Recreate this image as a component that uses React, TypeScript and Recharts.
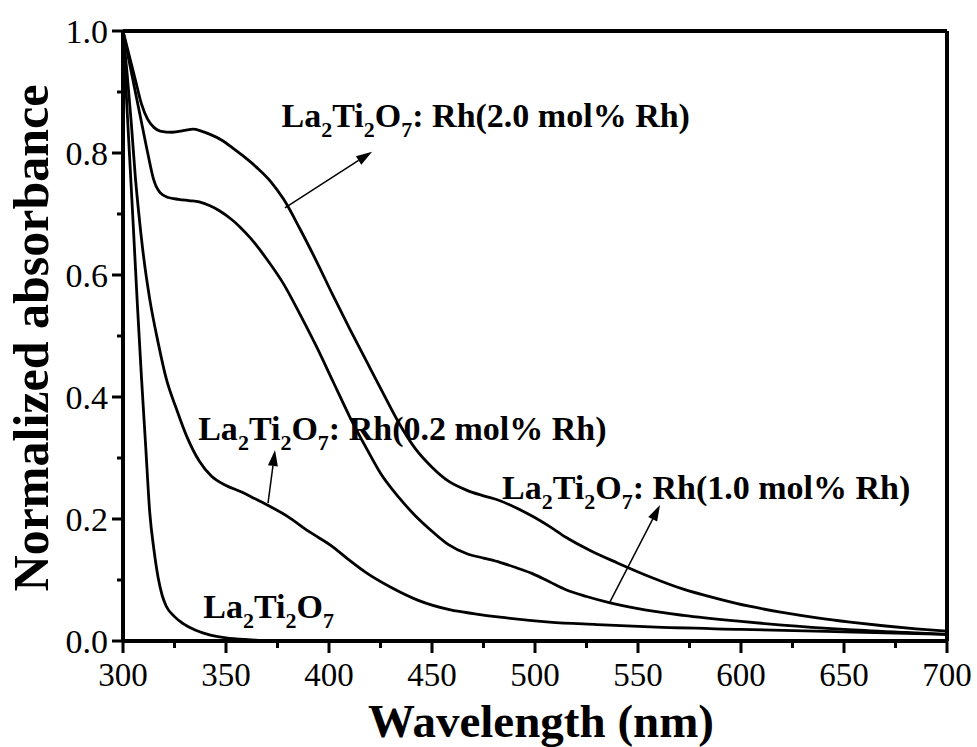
import React from 'react'
import { LineChart, Line, XAxis, YAxis, ReferenceLine, ReferenceDot } from 'recharts'

const FONT = '"Liberation Serif", "Times New Roman", serif'

// La2Ti2O7 (undoped)
const pureWl = [300, 302, 305, 307, 309, 311, 313, 315, 317, 319, 321, 325, 329, 335, 342, 350, 362, 375, 450, 700]
const pureAbs = [1.0, 0.87, 0.68, 0.55, 0.43, 0.32, 0.21, 0.15, 0.105, 0.075, 0.057, 0.04, 0.029, 0.018, 0.01, 0.005, 0.002, 0.0, 0.0, 0.0]

// 0.2 mol% Rh
const rh02Wl = [300, 302, 304, 306, 308, 310, 313, 317, 321, 326, 331, 337, 343, 350, 357, 363, 370, 380, 390, 402, 410, 418, 430, 443, 459, 470, 483, 507, 530, 556, 600, 650, 700]
const rh02Abs = [1.0, 0.93, 0.85, 0.76, 0.69, 0.63, 0.56, 0.49, 0.43, 0.38, 0.335, 0.295, 0.27, 0.255, 0.245, 0.235, 0.223, 0.204, 0.18, 0.154, 0.132, 0.112, 0.088, 0.067, 0.051, 0.045, 0.039, 0.031, 0.027, 0.023, 0.019, 0.015, 0.011]

// 1.0 mol% Rh
const rh10Wl = [300, 303, 306, 309, 312, 315, 318, 322, 327, 332, 337, 342, 347, 352, 357, 362, 370, 378, 386, 394, 402, 410, 418, 425, 434, 442, 450, 458, 467, 475, 483, 491, 499, 507, 515, 525, 536, 550, 572, 600, 620, 650, 680, 700]
const rh10Abs = [1.0, 0.95, 0.9, 0.85, 0.8, 0.755, 0.735, 0.727, 0.724, 0.722, 0.72, 0.714, 0.705, 0.693, 0.678, 0.66, 0.625, 0.585, 0.535, 0.482, 0.425, 0.368, 0.317, 0.275, 0.235, 0.205, 0.18, 0.158, 0.143, 0.136, 0.129, 0.12, 0.11, 0.097, 0.084, 0.073, 0.063, 0.053, 0.042, 0.032, 0.026, 0.019, 0.014, 0.011]

// 2.0 mol% Rh
const rh20Wl = [300, 303, 306, 309, 312, 315, 318, 324, 330, 334, 338, 342, 348, 353, 358, 365, 372, 378, 386, 394, 402, 410, 418, 426, 434, 442, 450, 458, 467, 475, 483, 491, 499, 507, 515, 527, 540, 556, 572, 588, 604, 620, 637, 653, 669, 685, 700]
const rh20Abs = [1.0, 0.96, 0.92, 0.88, 0.855, 0.842, 0.836, 0.834, 0.837, 0.839, 0.836, 0.831, 0.821, 0.809, 0.796, 0.776, 0.752, 0.724, 0.675, 0.622, 0.566, 0.512, 0.46, 0.408, 0.357, 0.315, 0.285, 0.262, 0.247, 0.238, 0.23, 0.218, 0.204, 0.188, 0.17, 0.148, 0.128, 0.105, 0.085, 0.07, 0.057, 0.047, 0.038, 0.031, 0.025, 0.02, 0.016]

const xTicks = [300, 325, 350, 375, 400, 425, 450, 475, 500, 525, 550, 575, 600, 625, 650, 675, 700]
const yTicks = [0, 0.1, 0.2, 0.3, 0.4, 0.5, 0.6, 0.7, 0.8, 0.9, 1.0]

// annotation text positions (wavelength, absorbance) and arrows
const labels = [
  { x: 377, y: 0.842, rest: ': Rh(2.0 mol% Rh)' },
  { x: 336.5, y: 0.33, rest: ': Rh(0.2 mol% Rh)' },
  { x: 484, y: 0.232, rest: ': Rh(1.0 mol% Rh)' },
  { x: 339, y: 0.038, rest: '' },
]
const arrows = [
  { from: [378.6, 0.71], to: [420.9, 0.802] },
  { from: [370.4, 0.226], to: [373.8, 0.313] },
  { from: [536.4, 0.064], to: [560.7, 0.223] },
]

const zip = (wl: number[], abs: number[]) => wl.map((x, i) => ({ x, y: abs[i] }))

const series = [
  { name: 'La2Ti2O7', data: zip(pureWl, pureAbs) },
  { name: '0.2 mol% Rh', data: zip(rh02Wl, rh02Abs) },
  { name: '1.0 mol% Rh', data: zip(rh10Wl, rh10Abs) },
  { name: '2.0 mol% Rh', data: zip(rh20Wl, rh20Abs) },
]

function XTick(props: any) {
  const { x, y, payload } = props
  const major = payload.value % 50 === 0
  return (
    <g>
      <line x1={x} x2={x} y1={y} y2={y + (major ? 12 : 7)} stroke="#000" strokeWidth={3} />
      {major && (
        <text x={x} y={y + 45} textAnchor="middle" fontSize={33} fontFamily={FONT} fill="#000">
          {payload.value}
        </text>
      )}
    </g>
  )
}

function YTick(props: any) {
  const { x, y, payload } = props
  const v = Math.round(payload.value * 10)
  const major = v % 2 === 0
  return (
    <g>
      <line x1={x - (major ? 11 : 6)} x2={x} y1={y} y2={y} stroke="#000" strokeWidth={3} />
      {major && (
        <text x={x - 15} y={y + 12} textAnchor="end" fontSize={34} fontFamily={FONT} fill="#000">
          {(v / 10).toFixed(1)}
        </text>
      )}
    </g>
  )
}

function Formula({ cx, cy, rest }: any) {
  return (
    <text x={cx} y={cy} fontSize={34} fontWeight="bold" fontFamily={FONT} fill="#000">
      La<tspan dy={10} fontSize={22}>2</tspan>
      <tspan dy={-10}>Ti</tspan>
      <tspan dy={10} fontSize={22}>2</tspan>
      <tspan dy={-10}>O</tspan>
      <tspan dy={10} fontSize={22}>7</tspan>
      {rest && <tspan dy={-10}>{rest}</tspan>}
    </text>
  )
}

function Arrow(props: any) {
  const { x1, y1, x2, y2 } = props
  const a = Math.atan2(y2 - y1, x2 - x1)
  const len = 16
  const w = 5
  const bx = x2 - len * Math.cos(a)
  const by = y2 - len * Math.sin(a)
  const px = -Math.sin(a) * w
  const py = Math.cos(a) * w
  return (
    <g>
      <line x1={x1} y1={y1} x2={bx} y2={by} stroke="#000" strokeWidth={1.5} />
      <polygon points={`${x2},${y2} ${bx + px},${by + py} ${bx - px},${by - py}`} fill="#000" />
    </g>
  )
}

export default function App() {
  return (
    <div style={{ position: 'absolute', left: 0, top: 0, background: '#fff' }}>
      <LineChart width={977} height={747} margin={{ top: 31, right: 30, bottom: 0, left: 0 }}>
        <XAxis
          type="number"
          dataKey="x"
          domain={[300, 700]}
          ticks={xTicks}
          interval={0}
          height={106}
          tickSize={0}
          tickMargin={0}
          tick={<XTick />}
          axisLine={{ stroke: '#000', strokeWidth: 4 }}
          label={{
            content: () => (
              <text x={541} y={737} textAnchor="middle" fontSize={47} fontWeight="bold" fontFamily={FONT} fill="#000">
                Wavelength (nm)
              </text>
            ),
          }}
        />
        <YAxis
          type="number"
          domain={[0, 1]}
          ticks={yTicks}
          interval={0}
          width={123}
          tickSize={0}
          tickMargin={0}
          tick={<YTick />}
          axisLine={{ stroke: '#000', strokeWidth: 4 }}
          label={{
            content: () => (
              <text
                x={31}
                y={338}
                transform="rotate(-90 31 338)"
                textAnchor="middle"
                dominantBaseline="central"
                fontSize={50}
                fontWeight="bold"
                fontFamily={FONT}
                fill="#000"
              >
                Normalized absorbance
              </text>
            ),
          }}
        />
        <ReferenceLine y={1} stroke="#000" strokeWidth={4} />
        <ReferenceLine x={700} stroke="#000" strokeWidth={4} />
        {series.map(s => (
          <Line
            key={s.name}
            data={s.data}
            dataKey="y"
            type="monotone"
            stroke="#000"
            strokeWidth={2.8}
            dot={false}
            isAnimationActive={false}
          />
        ))}
        {arrows.map((a, i) => (
          <ReferenceLine
            key={'a' + i}
            segment={[{ x: a.from[0], y: a.from[1] }, { x: a.to[0], y: a.to[1] }]}
            shape={(p: any) => <Arrow {...p} />}
          />
        ))}
        {labels.map((l, i) => (
          <ReferenceDot
            key={'l' + i}
            x={l.x}
            y={l.y}
            r={0}
            shape={(p: any) => <Formula cx={p.cx} cy={p.cy} rest={l.rest} />}
          />
        ))}
      </LineChart>
    </div>
  )
}
